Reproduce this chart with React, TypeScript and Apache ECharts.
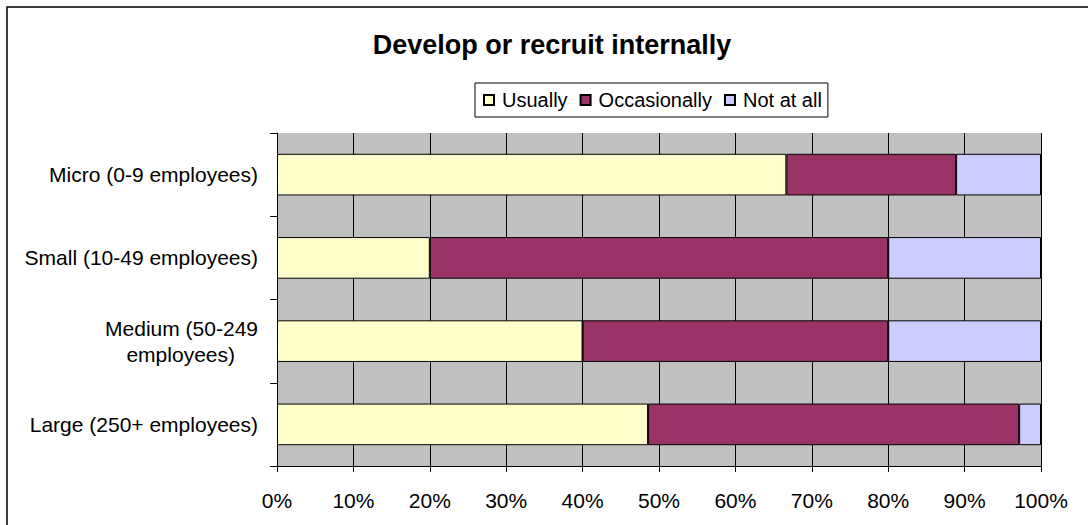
import React, { useEffect, useRef } from "react";
import * as echarts from "echarts";

const categories = [
  "Micro (0-9 employees)",
  "Small (10-49 employees)",
  "Medium (50-249 employees)",
  "Large (250+ employees)",
];
const usually = [66.67, 20, 40, 48.57];
const occasionally = [22.22, 60, 40, 48.57];
const notAtAll = [11.11, 20, 20, 2.86];
const xTicks = [0, 10, 20, 30, 40, 50, 60, 70, 80, 90, 100];

const FONT = "Arial, 'Liberation Sans', sans-serif";

export default function App() {
  const ref = useRef<HTMLDivElement>(null);
  useEffect(() => {
    document.body.style.margin = "0";
    const chart = echarts.init(ref.current!, null, { renderer: "svg" });
    const barStyle = (color: string) => ({
      color,
      borderColor: "#000",
      borderWidth: 1,
    });
    chart.setOption({
      animation: false,
      backgroundColor: "#fff",
      title: {
        text: "Develop or recruit internally",
        left: 552,
        textAlign: "center",
        top: 31,
        padding: 0,
        textStyle: { fontFamily: FONT, fontWeight: "bold", fontSize: 27, color: "#000" },
      },
      legend: {
        left: 475,
        top: 83,
        orient: "horizontal",
        itemWidth: 10,
        itemHeight: 10,
        itemGap: 12,
        padding: [7, 6, 7, 8],
        borderColor: "#000",
        borderWidth: 1,
        backgroundColor: "#fff",
        icon: "rect",
        textStyle: { fontFamily: FONT, fontSize: 20, color: "#000", padding: [0, 0, 0, 3] },
        data: ["Usually", "Occasionally", "Not at all"],
      },
      graphic: [
        {
          type: "rect",
          shape: { x: 7, y: 7, width: 1200, height: 700 },
          style: { fill: "none", stroke: "#000", lineWidth: 1.5 },
          silent: true,
          z: 100,
        },
      ],
      grid: {
        left: 277,
        right: 47,
        top: 133,
        bottom: 59,
        show: true,
        backgroundColor: "#C0C0C0",
        borderWidth: 0,
      },
      xAxis: {
        type: "value",
        min: xTicks[0],
        max: xTicks[xTicks.length - 1],
        interval: 10,
        axisLine: { show: true, lineStyle: { color: "#000", width: 1 } },
        axisTick: { show: true, length: 6, lineStyle: { color: "#000" } },
        splitLine: { show: true, showMinLine: true, showMaxLine: true, lineStyle: { color: "#000", width: 1 } },
        axisLabel: {
          formatter: "{value}%",
          fontFamily: FONT,
          fontSize: 21,
          color: "#000",
          margin: 24,
        },
      },
      yAxis: {
        type: "category",
        inverse: true,
        data: categories,
        axisLine: { show: true, lineStyle: { color: "#000", width: 1 } },
        axisTick: { show: true, length: 7, lineStyle: { color: "#000" } },
        axisLabel: {
          fontFamily: FONT,
          fontSize: 21,
          color: "#000",
          margin: 19,
          lineHeight: 26,
          formatter: (v: string) =>
            v.startsWith("Medium") ? "Medium (50-249\n{b|employees)}" : v,
          rich: {
            b: { fontFamily: FONT, fontSize: 21, color: "#000", lineHeight: 26, padding: [0, 23, 0, 0] },
          },
        },
      },
      series: [
        { name: "Usually", type: "bar", stack: "s", data: usually, barCategoryGap: "50%", itemStyle: barStyle("#FFFFCC") },
        { name: "Occasionally", type: "bar", stack: "s", data: occasionally, barCategoryGap: "50%", itemStyle: barStyle("#993366") },
        { name: "Not at all", type: "bar", stack: "s", data: notAtAll, barCategoryGap: "50%", itemStyle: barStyle("#CCCCFF") },
      ],
    });
    return () => chart.dispose();
  }, []);
  return (
    <div
      ref={ref}
      style={{ position: "absolute", left: 0, top: 0, width: 1088, height: 525 }}
    />
  );
}
